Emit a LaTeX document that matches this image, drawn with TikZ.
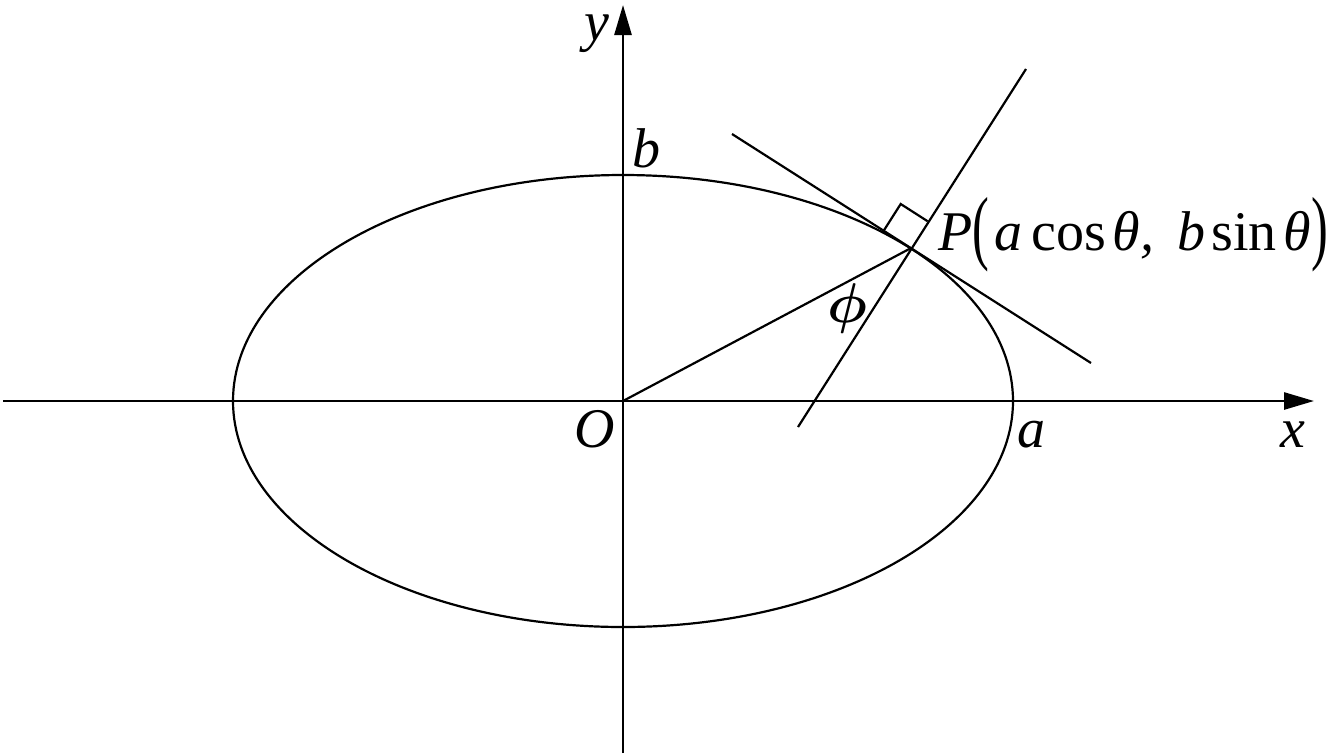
\RequirePackage{fix-cm}
\documentclass[tikz,border=0pt]{standalone}
\usepackage{bm}
\usepackage{fontspec}
\setmainfont{Liberation Serif}
\usetikzlibrary{arrows.meta}
\newcommand{\tallparen}[1]{\raisebox{-4pt}{\scalebox{0.9}[1.47]{\upshape #1}}}
\tikzset{
  axis/.style={line width=2.7pt, -{Triangle[length=30pt,width=17pt]}},
  curve/.style={line width=2.2pt},
  lab/.style={anchor=base, inner sep=0pt, font=\fontsize{56}{60}\selectfont\itshape}
}
\begin{document}
\begin{tikzpicture}[x=1pt,y=-1pt]
\useasboundingbox (0,0) rectangle (1336,753);
\coordinate (O) at (623,401);
\coordinate (XL) at (3,401);
\coordinate (XR) at (1314,401);
\coordinate (YB) at (623,753);
\coordinate (YT) at (623,5);
\coordinate (P) at (910.5,248.3);
\coordinate (T1) at (732,134);
\coordinate (T2) at (1091,363);
\coordinate (N1) at (798,427);
\coordinate (N2) at (1026,69);
\coordinate (R1) at (883.5,231);
\coordinate (R2) at (900.7,204);
\coordinate (R3) at (927.7,221.3);
% ellipse
\draw[curve] (O) ellipse [x radius=390pt, y radius=226pt];
% axes
\draw[axis] (XL) -- (XR);
\draw[axis] (YB) -- (YT);
% lines
\draw[curve] (O) -- (P);
\draw[curve] (T1) -- (T2);
\draw[curve] (N1) -- (N2);
\draw[curve] (R1) -- (R2) -- (R3);
% labels
\node[lab] (ylab) at (597,40) {y};
\node[lab] (blab) at (646,167) {b};
\node[lab] (Olab) at (595,447) {O};
\node[lab] (alab) at (1031,447) {a};
\node[lab] (xlab) at (1293,447) {x};
\node[lab] (philab) at (847,322) {$\bm{\phi}$};
\node[lab, anchor=base west] (Plab) at (938,250) {P\tallparen{(}\hspace{5pt}a\hspace{9pt}\upshape cos\hspace{7pt}\itshape θ, \hspace{9pt}b\hspace{6pt}\upshape sin\hspace{7pt}\itshape θ\tallparen{)}};
\end{tikzpicture}
\end{document}
